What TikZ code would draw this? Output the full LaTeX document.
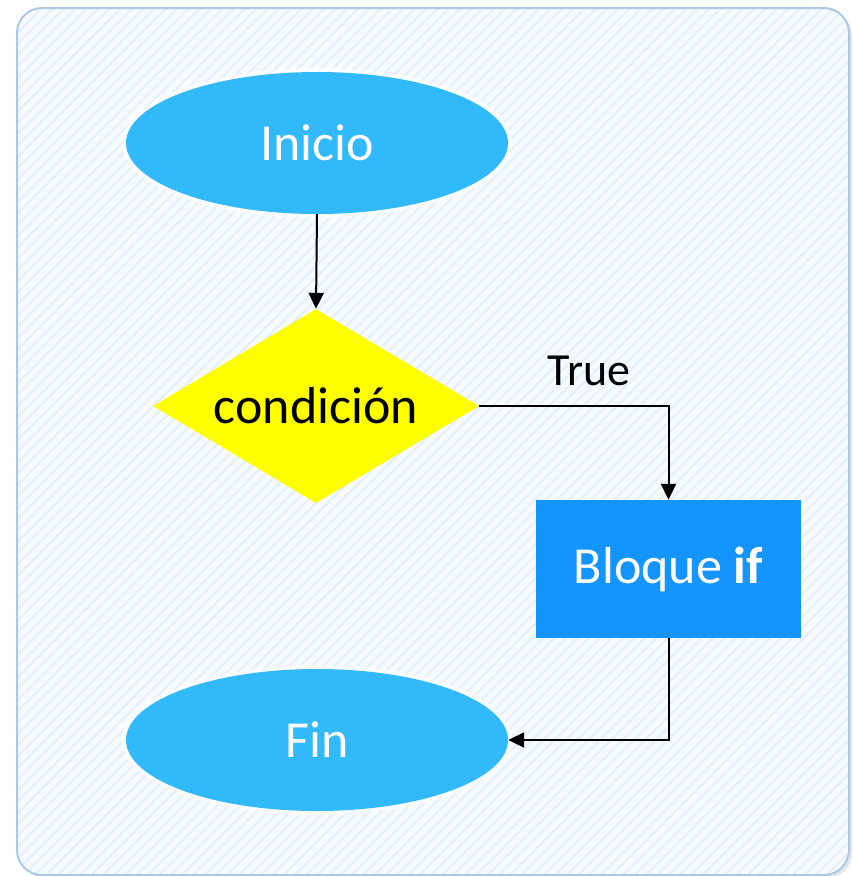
\documentclass[tikz,border=0pt]{standalone}
\usepackage{fontspec}
\setmainfont{Carlito}
\usetikzlibrary{shapes.geometric,arrows.meta,patterns.meta}
\definecolor{bgfill}{HTML}{F7FBFF}
\definecolor{bgline}{HTML}{E4F1FC}
\definecolor{bgborder}{HTML}{A9C9E8}
\definecolor{ellcol}{HTML}{31B9F9}
\definecolor{diacol}{HTML}{FFFF00}
\definecolor{boxcol}{HTML}{1495FE}
\tikzset{
  ellnode/.style={ellipse, fill=ellcol, minimum width=382pt, minimum height=142pt, inner sep=0pt, text=white, font=\fontsize{52}{60}\selectfont},
  glow/.style={ellipse, draw=white, line width=8pt, draw opacity=0.6, minimum width=382pt, minimum height=142pt, inner sep=0pt},
  dianode/.style={diamond, shape aspect=1.68, fill=diacol, minimum width=326pt, minimum height=194pt, inner sep=0pt, text=black, font=\fontsize{52}{60}\selectfont},
  boxnode/.style={rectangle, fill=boxcol, minimum width=265pt, minimum height=138pt, inner sep=0pt, text=white, font=\fontsize{52}{60}\selectfont},
  conn/.style={draw=black, line width=2pt, -{Triangle[length=16pt,width=15pt]}},
  lbl/.style={font=\fontsize{46}{54}\selectfont, text=black, inner sep=0pt}
}
\begin{document}
\begin{tikzpicture}[x=1pt,y=-1pt]
\useasboundingbox (0,0) rectangle (853,876);
% background panel
\fill[gray!20, rounded corners=25pt] (20,11) rectangle (852,878);
\fill[bgfill, rounded corners=25pt] (17,8) rectangle (849,875);
\fill[pattern={Lines[angle=45,distance=8pt,line width=2.2pt]}, pattern color=bgline, rounded corners=25pt] (17,8) rectangle (849,875);
\draw[bgborder, line width=2pt, rounded corners=25pt] (17,8) rectangle (849,875);
% nodes
\node[glow] at (317,143) {};
\node[glow] at (317,740) {};
\node[ellnode] (inicio) at (317,143) {Inicio};
\node[dianode] (cond) at (316,406) {condición};
\node[boxnode] (bloque) at (668.5,569) {Bloque \textbf{if}};
\node[ellnode] (fin) at (317,740) {Fin};
\node[lbl] (true) at (589,371) {True};
% connectors
\draw[conn] (inicio.south) -- (cond.north);
\draw[conn] (cond.east) -| (bloque.north);
\draw[conn] (bloque.south) |- (fin.east);
\end{tikzpicture}
\end{document}
